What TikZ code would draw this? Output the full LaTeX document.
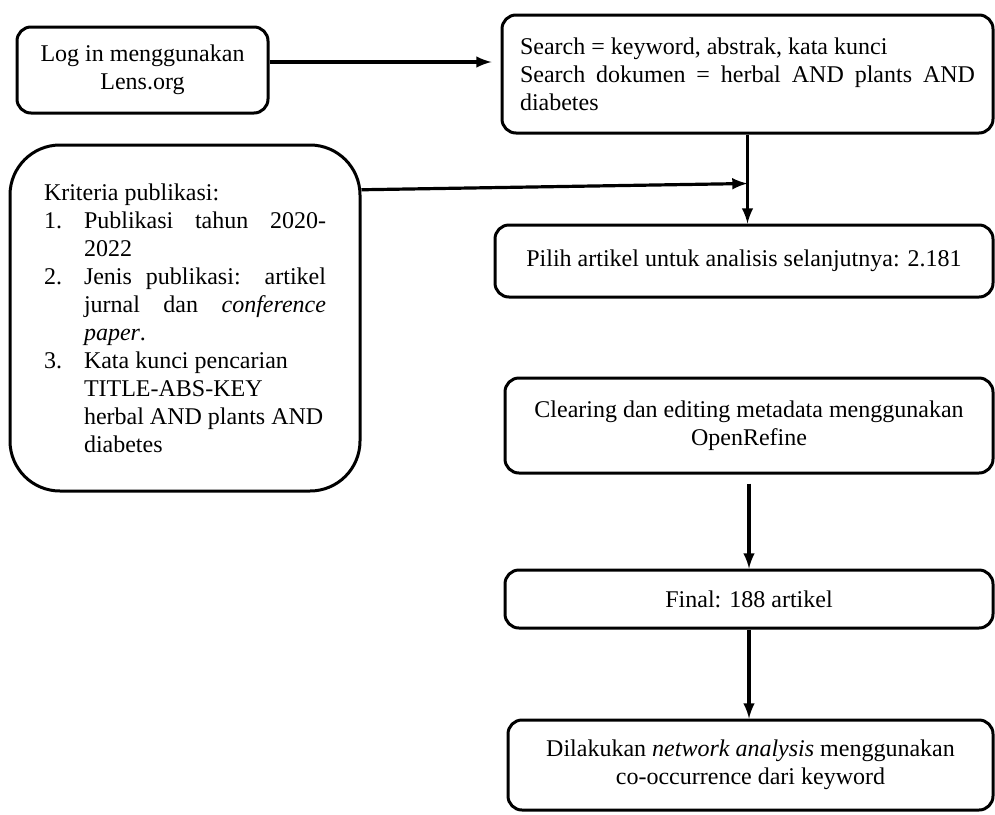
\documentclass[tikz,border=0pt]{standalone}
\usepackage{fontspec}
\setmainfont{Liberation Serif}
\usepackage{enumitem}
\tikzset{
  box/.style={draw, line width=1.5pt, rounded corners=7pt, inner sep=0pt, align=center, font=\fontsize{12}{14}\selectfont},
  flow/.style={-latex, line width=1.6pt}
}
\begin{document}
\begin{tikzpicture}[x=0.5pt,y=-0.5pt]
  \useasboundingbox (0,0) rectangle (995,814);

  \node[box, minimum width=125.5pt, minimum height=43pt] (login) at (142.5,70) {Log in menggunakan\\Lens.org};
  \node[box, minimum width=245.5pt, minimum height=59pt, text width=227.5pt, align=justify] (search) at (747.5,74)
    {Search = keyword, abstrak, kata kunci\par Search dokumen = herbal AND plants AND\linebreak diabetes};
  \node[box, rounded corners=25pt, minimum width=175pt, minimum height=173pt] (krit) at (185,318) {\begin{minipage}{141pt}
    Kriteria publikasi:
    \begin{enumerate}[nosep, leftmargin=20pt, labelwidth=20pt, labelsep=0pt, align=left]
      \item Publikasi tahun 2020-\linebreak 2022
      \item Jenis publikasi: artikel\linebreak jurnal dan \textit{conference}\linebreak \textit{paper}.
      \item Kata kunci pencarian\\TITLE-ABS-KEY\\herbal AND plants AND\\diabetes
    \end{enumerate}
  \end{minipage}};

  \node[box, minimum width=249pt, minimum height=36pt] (pilih) at (744,261) {Pilih artikel untuk analisis selanjutnya: 2.181};
  \node[box, minimum width=244pt, minimum height=47.5pt] (clear) at (749,425.5) {Clearing dan editing metadata menggunakan\\OpenRefine};
  \node[box, minimum width=244pt, minimum height=29pt] (final) at (749,599) {Final: 188 artikel};
  \node[box, minimum width=242.5pt, minimum height=45pt] (analisis) at (750.5,765) {Dilakukan \textit{network analysis} menggunakan\\co-occurrence dari keyword};

  \draw[flow, shorten >=4.5pt] ([yshift=4pt]login.east) coordinate (lg) -- (search.west |- lg);
  \draw[flow] (search.south) -- (search.south |- pilih.north);
  \path (search.south) ++(0,49) coordinate (join);
  \draw[flow] (krit.36) -- (join);
  \draw[flow, shorten <=4.5pt] (clear.south) -- (final.north);
  \draw[flow] (final.south) -- (final.south |- analisis.north);
\end{tikzpicture}
\end{document}
